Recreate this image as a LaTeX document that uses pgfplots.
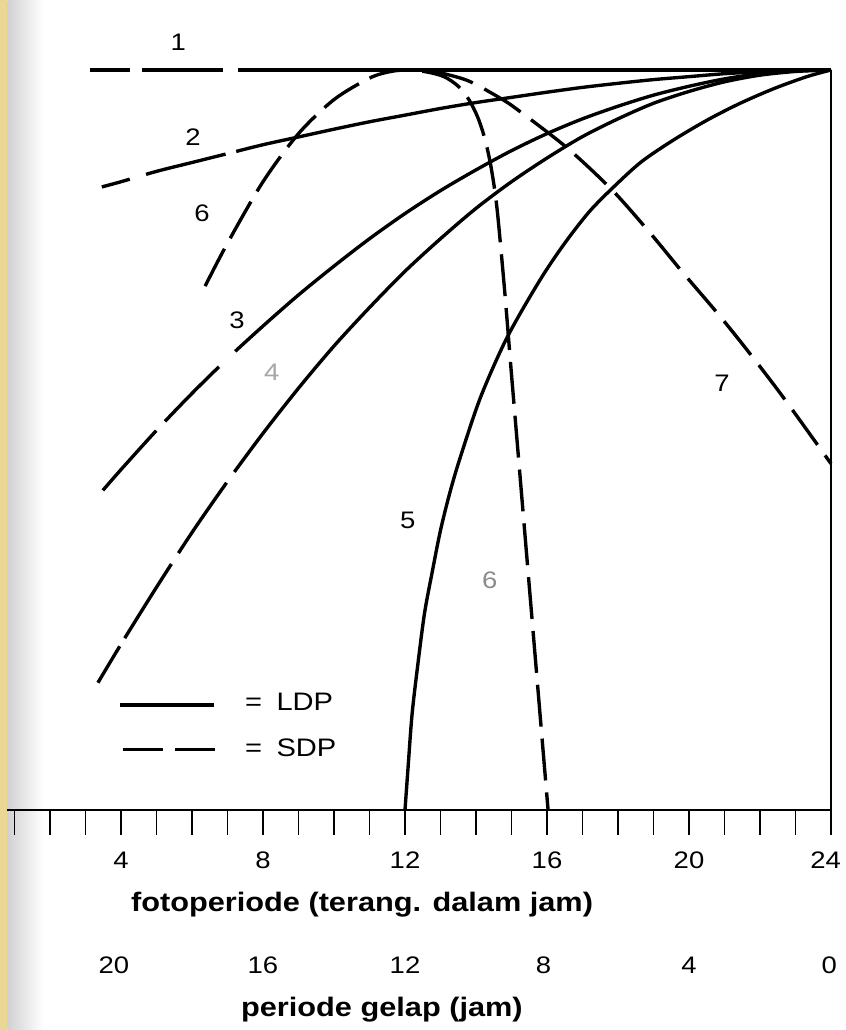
\documentclass[border=0pt]{standalone}
\usepackage{fontspec}
\setmainfont{Liberation Sans}[FakeStretch=1.15]
\usepackage{pgfplots}
\pgfplotsset{compat=1.18}
\definecolor{tanstrip}{RGB}{236,214,150}
\newcommand{\tl}{\fontsize{17}{17}\selectfont}
\newcommand{\al}{\fontsize{19}{19}\selectfont\bfseries}
\newcommand{\cl}{\fontsize{17}{17}\selectfont}
\begin{document}
\begin{tikzpicture}
\fill[white] (-1.85mm,-55mm) rectangle (209.15mm,202.5mm);
\fill[tanstrip] (-1.85mm,-55mm) rectangle (0mm,202.5mm);
\shade[left color=black!18, right color=white] (0mm,-55mm) rectangle (9mm,202.5mm);
\begin{axis}[
  at={(0,0)}, anchor=south west,
  scale only axis, width=205.9mm, height=185mm,
  xmin=0.8, xmax=24, ymin=0, ymax=100,
  axis x line=bottom, axis y line=right,
  axis line style={-, line width=1.3pt, black},
  ytick=\empty,
  xtick={4,8,12,16,20,24},
  minor xtick={1,...,24},
  xticklabels={},
  tick align=outside,
  major tick length=6.25mm, minor tick length=6.25mm,
  tick style={line width=1.4pt, black},
  clip=false,
  every axis plot/.append style={line width=2.4pt, black},
]
% curve 1
\addplot[line width=2.7pt, dash pattern=on 10mm off 3mm on 20.25mm off 3.75mm on 300mm] coordinates {(3.13,100) (24,100)};
% curve 2
\addplot[smooth, dash pattern=on 7.25mm off 4.25mm on 20.5mm off 2.75mm on 300mm] coordinates {
(3.46,84.2) (4,84.9) (5,86.3) (6,87.5) (7,88.7) (8,89.9) (9,90.95) (10,92.0) (11,93.0) (12,93.9) (13,94.8) (14,95.6) (15,96.3) (16,97.0) (17,97.65) (18,98.2) (19,98.7) (20,99.1) (21,99.5) (22,99.75) (23,99.92) (24,100)};
% curve 3
\addplot[smooth, dash pattern=on 20mm off 3.2mm on 19.2mm off 5.6mm on 500mm] coordinates {
(3.49,43.2) (4,46.0) (5,51.3) (6,56.3) (7,61.0) (8,65.4) (9,69.6) (10,73.5) (11,77.2) (12,80.6) (13,83.7) (14,86.5) (15,89.1) (16,91.4) (17,93.4) (18,95.1) (19,96.6) (20,97.8) (21,98.8) (22,99.5) (23,99.9) (24,100)};
% curve 4
\addplot[smooth, dash pattern=on 10.6mm off 2.4mm on 21.9mm off 3.25mm on 21.3mm off 3.35mm on 500mm] coordinates {
(3.35,17.2) (4,22.4) (5,30.1) (6,37.5) (7,44.4) (8,50.9) (9,57.0) (10,62.7) (11,67.9) (12,72.8) (13,77.2) (14,81.3) (15,84.9) (16,88.1) (17,91.0) (18,93.4) (19,95.5) (20,97.1) (21,98.4) (22,99.3) (23,99.8) (24,100)};
% curve 5
\addplot[smooth] coordinates {
(12,0) (12.09,6) (12.2,13) (12.37,20) (12.55,26.6) (12.76,32) (13.0,37.8) (13.27,43) (13.56,47.7) (14.13,55.8) (14.88,63.9) (15.8,71.6) (16.5,76.6) (17.2,80.9) (17.9,84.3) (18.66,87.6) (19.55,90.5) (20.5,93.2) (21.44,95.5) (22.4,97.5) (23.32,99.1) (24,100)};
% curve 6
\addplot[smooth, dash pattern=on 10.5mm off 3mm] coordinates {
(6.37,70.8) (7,76.6) (8,84.9) (9,91.4) (10,96.0) (11,98.9) (11.6,99.8) (12.1,100) (12.6,99.75) (13.1,99.1) (13.5,97.8) (13.8,96.0) (14.05,93.6) (14.25,90.7) (14.4,87.5) (14.52,84) (14.62,80) (14.81,70) (14.98,60) (15.155,50) (15.33,40) (15.505,30) (15.68,20) (15.855,10) (16.03,0)};
% curve 7
\addplot[smooth, dash pattern=on 10.75mm off 3.25mm] coordinates {
(12.75,99.9) (13.75,98.6) (14.68,96.2) (15.18,94.6) (16.56,89.5) (17.83,83.8) (18.90,78.0) (19.83,72.6) (20.79,67.2) (21.63,62.2) (22.65,55.8) (24,46.8)};
% legend
\draw[line width=2.4pt] (axis cs:3.97,14.2) -- (axis cs:6.62,14.2);
\draw[line width=2.4pt, dash pattern=on 10mm off 3mm] (axis cs:4.06,8.2) -- (axis cs:6.68,8.2);
\node[anchor=west, inner sep=0, font=\fontsize{18}{18}\selectfont] at (axis cs:7.49,14.6) {=\hspace{3.6mm}LDP};
\node[anchor=west, inner sep=0, font=\fontsize{18}{18}\selectfont] at (axis cs:7.49,8.4) {=\hspace{3.6mm}SDP};
% curve labels
\node[font=\cl] at (axis cs:5.61,103.8) {1};
\node[font=\cl] at (axis cs:6.03,90.9) {2};
\node[font=\cl] at (axis cs:6.28,80.7) {6};
\node[font=\cl] at (axis cs:7.27,66.2) {3};
\node[font=\cl, text=black!35] at (axis cs:8.25,59.2) {4};
\node[font=\cl] at (axis cs:12.08,39.2) {5};
\node[font=\cl, text=black!45] at (axis cs:14.39,31.1) {6};
\node[font=\cl] at (axis cs:20.93,57.7) {7};
% tick labels row 1
\node[font=\tl] at (axis cs:4,0) [yshift=-12.5mm] {4};
\node[font=\tl] at (axis cs:8,0) [yshift=-12.5mm] {8};
\node[font=\tl] at (axis cs:12,0) [yshift=-12.5mm] {12};
\node[font=\tl] at (axis cs:16,0) [yshift=-12.5mm] {16};
\node[font=\tl] at (axis cs:20,0) [yshift=-12.5mm] {20};
\node[font=\tl] at (axis cs:23.85,0) [yshift=-12.5mm] {24};
\node[font=\al] at (axis cs:10.79,0) [yshift=-23.75mm] {fotoperiode (terang. dalam jam)};
% row 2
\node[font=\tl] at (axis cs:3.8,0) [yshift=-38.75mm] {20};
\node[font=\tl] at (axis cs:8,0) [yshift=-38.75mm] {16};
\node[font=\tl] at (axis cs:12,0) [yshift=-38.75mm] {12};
\node[font=\tl] at (axis cs:15.9,0) [yshift=-38.75mm] {8};
\node[font=\tl] at (axis cs:20,0) [yshift=-38.75mm] {4};
\node[font=\tl] at (axis cs:23.95,0) [yshift=-38.75mm] {0};
\node[font=\al] at (axis cs:11.35,0) [yshift=-50mm] {periode gelap (jam)};
\end{axis}
\end{tikzpicture}
\end{document}
